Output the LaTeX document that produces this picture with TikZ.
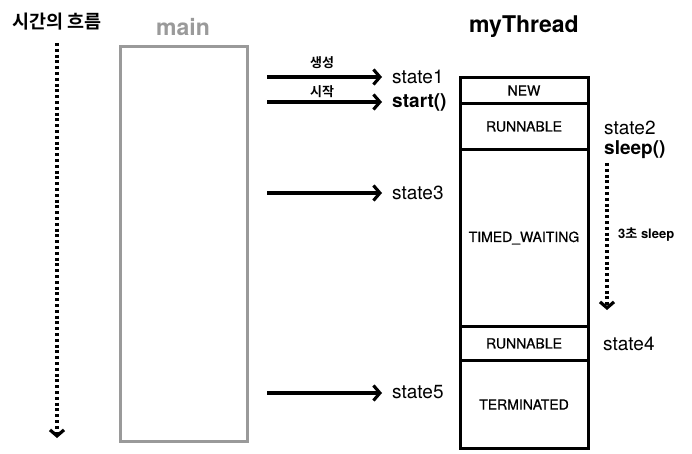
\documentclass[tikz,border=0pt]{standalone}
\usepackage{fontspec}
\setmainfont{TeX Gyre Heros}
\newfontfamily\medium[FakeBold=0.7]{TeX Gyre Heros}
\newfontfamily\kr[BoldFont={Noto Sans CJK KR Bold}]{Noto Sans CJK KR}
\usetikzlibrary{arrows.meta}
\definecolor{maingray}{HTML}{9A9A9A}
\tikzset{
  x=1pt, y=-1pt,
  flow/.style={line width=3.1pt, -{Straight Barb[length=6.5pt,width=15pt]}},
  dotflow/.style={line width=3.2pt, dash pattern=on 3pt off 2.8pt, -{Straight Barb[length=6pt,width=14pt]}},
  stbox/.style={draw, line width=3pt, minimum width=128pt, anchor=north, inner sep=0pt,
    font=\medium\fontsize{14}{16}\selectfont},
  stlab/.style={anchor=west, inner sep=0pt, font=\fontsize{19}{22}\selectfont},
  stbold/.style={stlab, font=\fontsize{19}{22}\selectfont\bfseries},
  krlab/.style={inner sep=0pt, font=\kr\bfseries\fontsize{13}{15}\selectfont},
}
\begin{document}
\begin{tikzpicture}
\useasboundingbox (0,0) rectangle (692,454);
% titles
\node[inner sep=0pt, font=\kr\bfseries\fontsize{18.5}{21}\selectfont] (tt) at (57,22) {시간의 흐름};
\node[inner sep=0pt, text=maingray, font=\fontsize{23}{26}\selectfont\bfseries] (mt) at (183,27) {main};
\node[inner sep=0pt, font=\fontsize{23}{26}\selectfont\bfseries] (ttl) at (524,27) {myThread};
% time axis
\coordinate (t0) at (57,43);
\coordinate (t1) at (57,438);
\draw[dotflow] (t0) -- (t1);
% main box
\draw[maingray, line width=3pt] (120,47) rectangle (247,441);
% thread boxes
\node[stbox, minimum height=26pt] (new) at (524,76) {NEW};
\node[stbox, minimum height=46pt] (run1) at (524,102) {RUNNABLE};
\node[stbox, minimum height=177pt] (tw) at (524,148) {TIMED\_WAITING};
\node[stbox, minimum height=34pt] (run2) at (524,325) {RUNNABLE};
\node[stbox, minimum height=88pt] (term) at (524,359) {TERMINATED};
% state labels
\node[stlab] (s1) at (392,77) {state1};
\node[stbold] (st) at (392,102) {start()};
\node[stlab] (s3) at (392,193) {state3};
\node[stlab] (s5) at (392,392) {state5};
\node[stlab] (s2) at (604,128) {state2};
\node[stbold] (sl) at (604,150) {sleep()};
\node[stlab] (s4) at (603,344) {state4};
% arrows from main
\coordinate (m1) at (267,77);
\coordinate (m2) at (267,102);
\coordinate (m3) at (267,193);
\coordinate (m5) at (267,393);
\draw[flow, shorten >=10pt] (m1) -- (m1 -| s1.west);
\draw[flow, shorten >=10pt] (m2) -- (m2 -| st.west);
\draw[flow, shorten >=10pt] (m3) -- (m3 -| s3.west);
\draw[flow, shorten >=10pt] (m5) -- (m5 -| s5.west);
\node[krlab] (l1) at (322,63) {생성};
\node[krlab] (l2) at (322,92) {시작};
% sleep arrow
\coordinate (z0) at (607,163);
\coordinate (z1) at (607,310);
\draw[dotflow] (z0) -- (z1);
\node[anchor=west, inner sep=0pt, font=\bfseries\fontsize{13}{15}\selectfont] (sl3) at (618,235) {3{\kr\bfseries 초} sleep};
\end{tikzpicture}
\end{document}
